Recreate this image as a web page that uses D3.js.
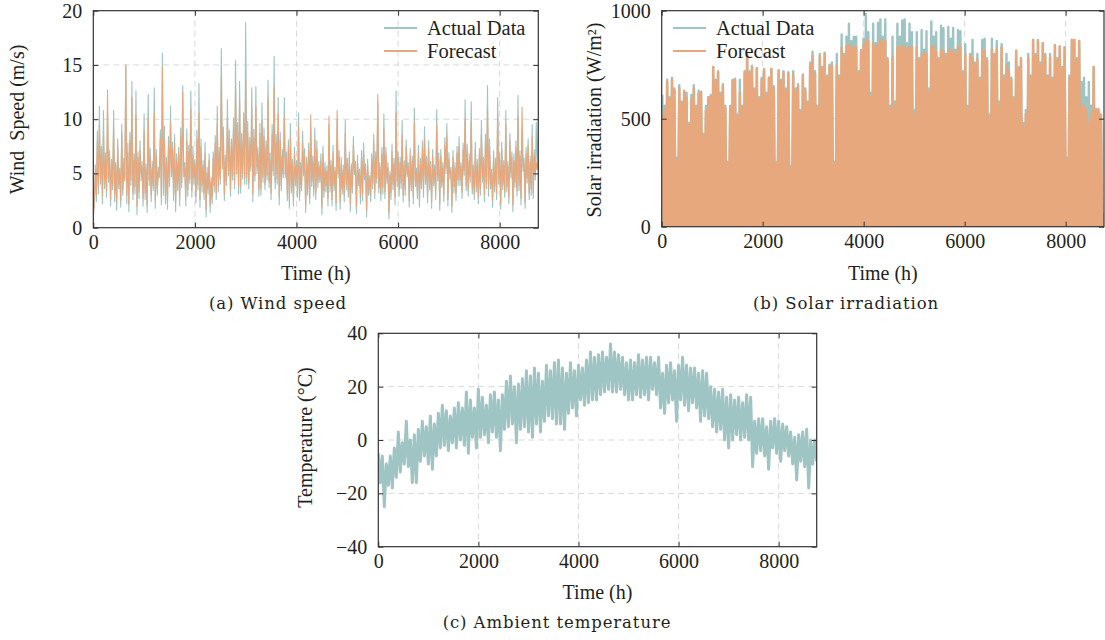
<!DOCTYPE html>
<html>
<head>
<meta charset="utf-8">
<script src="https://cdn.jsdelivr.net/npm/d3@7"></script>
<style>
  html, body { margin: 0; padding: 0; background: #fff; }
  svg { display: block; }
  text { font-family: "Liberation Serif", "Times New Roman", serif; fill: #231f20; }
  .caption { font-family: "DejaVu Serif", serif; }
</style>
</head>
<body>
<svg id="chart" width="1105" height="640"></svg>
<script>
// ---- data -------------------------------------------------------------
const hours = 8760;

// Wind speed (m/s), one reading every 20 h (20 readings per row = 400 h)
const windStep = 20;
const windActual = [
  3.5, 1.8, 5.8, 2.4, 8.9, 3.1, 11.2, 4.0, 7.5, 2.2, 10.8, 3.6, 6.9, 2.8, 10.5, 4.2, 7.1, 2.0, 6.3, 3.5,
  10.8, 2.4, 6.0, 1.6, 8.2, 3.6, 5.5, 1.9, 9.5, 3.0, 6.4, 4.6, 15.0, 2.2, 7.8, 1.5, 8.8, 3.9, 13.5, 2.6,
  6.8, 3.1, 12.6, 1.2, 7.0, 2.7, 8.0, 4.3, 6.1, 2.0, 10.5, 2.6, 5.9, 1.4, 12.3, 3.9, 7.3, 2.4, 6.1, 3.4,
  12.9, 1.8, 7.2, 3.0, 5.6, 4.6, 9.0, 2.1, 16.1, 3.0, 9.4, 2.2, 6.5, 1.7, 8.4, 3.8, 11.2, 4.7, 7.9, 2.5,
  8.6, 1.5, 6.8, 3.4, 7.4, 2.0, 9.2, 3.7, 13.1, 5.2, 6.0, 2.0, 9.1, 2.9, 7.6, 4.1, 12.6, 2.8, 7.5, 4.0,
  6.3, 2.3, 9.0, 3.5, 13.3, 1.9, 8.2, 3.3, 6.2, 2.6, 7.9, 1.0, 5.6, 3.1, 6.8, 1.4, 4.1, 2.2, 7.0, 3.3,
  8.5, 2.6, 11.2, 3.3, 7.4, 4.0, 16.5, 6.0, 9.3, 2.5, 6.7, 3.9, 11.8, 4.8, 9.0, 2.9, 8.2, 4.4, 10.1, 3.6,
  15.4, 5.5, 9.7, 3.1, 13.5, 3.2, 8.7, 4.5, 10.6, 4.0, 18.9, 4.0, 9.8, 3.6, 8.3, 5.2, 12.9, 2.4, 9.1, 4.3,
  13.0, 5.1, 7.4, 2.9, 9.6, 3.0, 11.5, 4.2, 9.2, 3.5, 8.0, 4.4, 13.6, 3.7, 6.9, 2.6, 9.5, 4.8, 15.8, 3.6,
  8.6, 4.0, 12.0, 2.1, 8.8, 3.4, 7.2, 4.6, 12.0, 4.6, 7.0, 2.5, 8.1, 1.8, 9.6, 3.2, 6.3, 2.0, 7.4, 3.9,
  6.2, 2.8, 10.6, 2.5, 6.0, 3.4, 8.9, 4.8, 7.3, 1.4, 6.5, 3.0, 7.8, 2.2, 9.2, 3.8, 6.6, 2.9, 9.2, 2.6,
  8.0, 3.7, 6.1, 4.2, 6.8, 1.2, 7.5, 2.8, 6.0, 3.3, 5.7, 2.0, 9.5, 3.3, 6.2, 2.0, 7.6, 3.4, 5.6, 1.6,
  10.0, 4.6, 7.1, 1.7, 6.5, 3.1, 5.8, 2.4, 9.9, 3.5, 6.4, 2.8, 7.0, 1.5, 5.9, 3.2, 8.4, 4.9, 6.1, 1.3,
  6.7, 3.9, 5.4, 2.2, 7.1, 2.5, 7.8, 4.4, 5.9, 1.0, 6.3, 3.0, 4.8, 2.4, 6.8, 3.6, 8.6, 2.7, 7.0, 4.1,
  11.5, 3.2, 6.0, 2.5, 7.4, 3.1, 10.5, 2.7, 7.4, 4.1, 6.0, 0.8, 5.2, 2.6, 7.7, 3.5, 6.4, 2.1, 12.6, 3.8,
  7.0, 2.9, 6.5, 3.6, 9.9, 2.4, 6.2, 3.0, 8.1, 4.7, 6.0, 1.9, 7.3, 3.4, 6.6, 2.2, 11.0, 3.8, 5.5, 2.7,
  7.6, 1.9, 6.4, 3.6, 8.0, 2.8, 9.3, 4.0, 6.6, 2.3, 8.0, 3.5, 6.1, 1.8, 7.2, 3.9, 5.8, 2.6, 10.9, 4.3,
  6.9, 1.6, 7.2, 3.7, 6.0, 2.4, 8.3, 5.1, 9.6, 2.0, 6.9, 4.5, 5.6, 1.4, 7.1, 3.2, 6.0, 2.5, 7.5, 3.9,
  8.4, 3.9, 6.0, 2.7, 7.8, 4.8, 11.8, 3.4, 7.7, 2.9, 6.8, 4.2, 11.6, 3.1, 5.8, 2.6, 7.9, 3.3, 6.3, 2.2,
  7.3, 3.0, 9.9, 4.2, 6.5, 2.4, 8.6, 3.6, 13.1, 2.9, 8.2, 3.6, 5.4, 1.9, 7.1, 3.3, 6.4, 2.6, 12.0, 4.0,
  6.9, 1.7, 7.9, 3.5, 6.2, 2.8, 10.8, 3.3, 6.1, 2.2, 8.7, 4.6, 7.0, 1.5, 6.8, 3.7, 8.0, 2.9, 12.2, 3.4,
  7.1, 2.1, 9.0, 5.2, 6.4, 1.8, 7.4, 4.1, 8.2, 2.6, 6.6, 3.0, 9.5, 2.7, 7.2, 4.4, 9.7, 5.5, 9.9
];
const windForecast = [
  0.6, 2.5, 5.2, 3.0, 8.0, 3.8, 9.5, 4.5, 6.8, 2.9, 8.7, 4.1, 6.2, 3.4, 12.7, 4.6, 6.5, 2.6, 5.9, 3.9,
  9.2, 3.1, 5.6, 2.3, 7.5, 4.2, 5.0, 2.5, 8.8, 3.5, 5.9, 4.3, 15.0, 3.0, 6.9, 2.2, 8.0, 4.4, 12.0, 3.2,
  6.2, 3.8, 10.4, 2.0, 6.5, 3.3, 7.1, 5.0, 5.6, 2.7, 9.0, 3.2, 5.4, 2.1, 10.1, 4.4, 6.6, 3.0, 5.5, 3.9,
  10.6, 2.5, 6.5, 3.6, 5.2, 5.2, 8.2, 2.8, 14.8, 3.6, 8.1, 2.9, 6.0, 2.4, 7.6, 4.3, 9.6, 5.0, 7.2, 3.1,
  7.8, 2.3, 6.1, 4.0, 6.8, 2.7, 8.4, 4.2, 12.5, 4.7, 5.5, 2.8, 8.0, 3.5, 7.0, 4.5, 10.9, 3.4, 6.7, 4.6,
  5.8, 2.9, 8.2, 4.0, 10.6, 2.6, 7.4, 3.9, 5.7, 3.2, 6.8, 1.7, 5.0, 3.6, 6.2, 2.1, 4.6, 2.9, 6.4, 3.9,
  7.8, 3.2, 9.6, 3.9, 6.8, 4.5, 14.0, 5.4, 8.5, 3.0, 6.1, 4.4, 10.2, 5.3, 8.2, 3.5, 7.5, 4.9, 9.1, 4.1,
  12.9, 5.0, 8.8, 3.7, 11.8, 3.8, 7.9, 5.0, 9.4, 4.6, 13.6, 4.6, 8.7, 4.1, 7.6, 5.6, 11.0, 3.1, 8.3, 4.8,
  11.2, 5.6, 6.8, 3.5, 8.7, 3.6, 9.9, 4.7, 8.4, 4.0, 7.3, 4.8, 12.0, 4.2, 6.2, 3.2, 8.6, 5.2, 12.9, 4.2,
  7.9, 4.5, 10.5, 2.8, 8.0, 3.9, 6.6, 5.0, 10.1, 5.0, 6.4, 3.1, 7.4, 2.5, 8.3, 3.8, 5.8, 2.6, 6.8, 4.4,
  5.7, 3.3, 9.3, 3.0, 5.5, 3.9, 7.8, 5.2, 6.6, 2.0, 5.9, 3.6, 7.1, 2.8, 10.4, 4.3, 6.0, 3.5, 8.1, 3.2,
  7.2, 4.2, 5.6, 4.7, 6.1, 1.9, 6.8, 3.4, 5.5, 3.9, 5.2, 2.7, 10.3, 3.9, 5.7, 2.6, 6.9, 3.9, 5.2, 2.3,
  10.8, 5.0, 6.5, 2.4, 5.9, 3.6, 5.3, 3.0, 8.7, 4.0, 5.9, 3.4, 6.4, 2.2, 5.4, 3.8, 7.6, 5.2, 5.6, 1.9,
  6.1, 4.4, 5.0, 2.9, 6.5, 3.1, 7.0, 4.8, 5.4, 1.6, 5.8, 3.6, 4.5, 3.0, 6.2, 4.1, 7.8, 3.3, 6.4, 4.6,
  12.3, 3.7, 5.6, 3.1, 6.8, 3.7, 9.2, 3.3, 6.8, 4.6, 5.5, 1.4, 4.9, 3.2, 7.0, 4.0, 5.9, 2.8, 10.6, 4.3,
  6.5, 3.5, 6.0, 4.1, 8.5, 3.0, 5.7, 3.6, 7.4, 5.1, 5.6, 2.5, 6.7, 4.0, 6.1, 2.8, 9.7, 4.3, 5.0, 3.3,
  6.9, 2.5, 5.9, 4.1, 7.3, 3.4, 8.1, 4.5, 6.0, 2.9, 7.3, 4.0, 5.6, 2.4, 6.6, 4.4, 5.3, 3.2, 9.4, 4.8,
  6.3, 2.2, 6.6, 4.2, 5.5, 3.0, 7.6, 5.5, 8.5, 2.6, 6.3, 5.0, 5.2, 2.0, 6.5, 3.8, 5.5, 3.1, 6.9, 4.4,
  7.5, 4.4, 5.6, 3.3, 7.2, 5.2, 10.0, 3.9, 7.0, 3.5, 6.2, 4.7, 9.8, 3.6, 5.3, 3.1, 7.2, 3.8, 5.8, 2.8,
  6.7, 3.6, 8.6, 4.7, 6.0, 3.0, 7.9, 4.1, 11.2, 3.5, 7.5, 4.1, 5.0, 2.5, 6.5, 3.9, 5.9, 3.2, 10.4, 4.5,
  6.4, 2.2, 7.2, 4.0, 5.7, 3.3, 9.5, 3.8, 5.6, 2.8, 8.0, 5.1, 6.5, 2.1, 6.2, 4.2, 7.4, 3.4, 10.3, 3.9,
  6.6, 2.7, 11.1, 5.6, 5.9, 2.3, 6.8, 4.6, 7.6, 3.2, 6.1, 3.6, 8.4, 3.2, 6.6, 4.9, 6.0, 5.3, 6.1
];

// Solar irradiation (W/m²): daytime maxima every 48 h, night-time readings are 0
const solarStep = 48;
const solarNight = 0;
const solarActual = [
  610, 560, 680, 600, 690, 640, 320, 655, 580, 630,
  620, 480, 610, 655, 560, 630, 625, 430, 560, 600,
  610, 740, 680, 720, 620, 660, 560, 300, 560, 680,
  685, 520, 680, 560, 720, 800, 720, 745, 640, 735,
  600, 690, 730, 620, 690, 730, 650, 300, 725, 680,
  720, 640, 715, 280, 720, 640, 660, 540, 705, 640,
  580, 760, 810, 720, 560, 800, 740, 805, 700, 750,
  760, 300, 800, 700, 890, 800, 880, 940, 860, 880,
  880, 720, 818, 870, 985, 900, 620, 940, 850, 945,
  960, 880, 960, 780, 560, 880, 580, 940, 880, 955,
  960, 850, 940, 900, 540, 900, 780, 910, 820, 905,
  640, 950, 880, 900, 780, 930, 920, 800, 925, 870,
  920, 820, 910, 905, 720, 845, 560, 800, 865, 760,
  800, 690, 865, 870, 780, 520, 870, 800, 860, 580,
  845, 700, 800, 760, 690, 600, 815, 740, 780, 480,
  540, 800, 700, 865, 800, 865, 760, 850, 800, 700,
  800, 690, 840, 780, 835, 740, 830, 320, 700, 865,
  865, 780, 860, 670, 690, 600, 670, 560, 740, 545,
  530, 500, 60
];
const solarForecast = [
  520, 540, 670, 590, 680, 630, 300, 640, 570, 625,
  600, 470, 590, 640, 550, 615, 620, 420, 540, 600,
  600, 740, 670, 715, 610, 650, 550, 290, 550, 675,
  680, 510, 620, 550, 715, 795, 710, 740, 630, 730,
  590, 680, 725, 610, 690, 730, 640, 290, 720, 670,
  715, 630, 710, 270, 705, 630, 650, 530, 700, 630,
  570, 750, 790, 710, 550, 790, 730, 800, 690, 745,
  740, 290, 750, 690, 830, 790, 835, 840, 830, 830,
  830, 710, 810, 840, 865, 860, 600, 850, 830, 848,
  865, 850, 865, 770, 540, 787, 560, 830, 833, 835,
  833, 820, 833, 830, 520, 830, 770, 800, 800, 800,
  620, 833, 833, 810, 770, 815, 815, 790, 815, 815,
  815, 800, 833, 830, 710, 800, 540, 790, 780, 750,
  775, 680, 815, 815, 770, 500, 820, 790, 820, 560,
  830, 690, 750, 720, 680, 590, 815, 730, 775, 460,
  520, 780, 690, 865, 790, 860, 750, 850, 790, 690,
  785, 680, 840, 770, 833, 730, 830, 310, 690, 865,
  865, 770, 860, 555, 560, 540, 480, 520, 740, 540,
  545, 520, 40
];

// Ambient temperature (°C), one reading every 40 h
const tempStep = 40;
const temperature = [
  -5, -16, -6, -25, -9, -17, -6, -18, -3, -14,
  3, -12, -1, -9, 7, -10, 0, -16, 2, -16,
  4, -8, 7, -6, 5, -9, 9, -11, 6, -6,
  10, -3, 13, -2, 11, -4, 9, -1, 12, -3,
  14, 0, 12, -2, 18, -5, 15, 1, 12, -3,
  19, 1, 16, 2, 13, -1, 17, 3, 18, 1,
  15, -4, 17, 4, 22, 5, 24, 6, 20, -1,
  21, 4, 23, 5, 26, 3, 24, 1, 27, 6,
  25, 3, 22, 7, 28, 9, 26, 8, 29, 6,
  30, 6, 27, 4, 25, 10, 29, 12, 26, 9,
  28, 15, 27, 13, 30, 14, 33, 15, 31, 15,
  32, 17, 33, 18, 31, 19, 36, 18, 33, 18,
  32, 19, 31, 17, 29, 15, 30, 15, 29, 17,
  32, 16, 30, 17, 31, 15, 31, 19, 29, 17,
  31, 12, 25, 10, 28, 14, 29, 15, 26, 7,
  28, 15, 31, 13, 28, 11, 27, 14, 27, 12,
  25, 7, 26, 9, 25, 8, 20, 5, 19, 3,
  18, 4, 19, 0, 16, -3, 17, 0, 15, 2,
  16, 0, 14, 1, 17, 0, 16, -10, 7, -5,
  8, -4, 8, -6, 5, -11, 7, -3, 8, -5,
  7, -8, 6, -4, 5, -6, 3, -9, 1, -15,
  2, -8, 3, -10, 4, -18, 0, -9, 0, -8
];

// Axis ticks and labels
const timeTicks = [0, 2000, 4000, 6000, 8000];
const windTicks = [0, 5, 10, 15, 20];
const solarTicks = [0, 500, 1000];
const tempTicks = [-40, -20, 0, 20, 40];
const legendLabels = ["Actual Data", "Forecast"];
const captions = ["(a) Wind speed", "(b) Solar irradiation", "(c) Ambient temperature"];

// ---- drawing ------------------------------------------------------------
const colActual = "#9ec4c3";
const colForecast = "#e7a87d";
const svg = d3.select("#chart");

function makePanel(o) {
  const x = d3.scaleLinear().domain([0, hours]).range([o.left, o.right]);
  const y = d3.scaleLinear().domain(o.yDomain).range([o.bottom, o.top]);
  const g = svg.append("g");
  const clipId = "clip-" + o.id;
  g.append("clipPath").attr("id", clipId).append("rect")
    .attr("x", o.left).attr("y", o.top)
    .attr("width", o.right - o.left).attr("height", o.bottom - o.top);

  // dashed grid
  const grid = g.append("g").attr("stroke", "#d9d9d9").attr("stroke-width", 1)
    .attr("stroke-dasharray", "6,4");
  grid.selectAll(".gx").data(timeTicks.filter(t => t > 0)).join("line")
    .attr("x1", d => x(d)).attr("x2", d => x(d)).attr("y1", o.top).attr("y2", o.bottom);
  grid.selectAll(".gy").data(o.yTicks.slice(1, -1)).join("line")
    .attr("y1", d => y(d)).attr("y2", d => y(d)).attr("x1", o.left).attr("x2", o.right);

  const plot = g.append("g").attr("clip-path", `url(#${clipId})`);
  return { x, y, g, plot };
}

function finishPanel(p, o) {
  const { x, y, g } = p;
  const style = sel => {
    sel.select(".domain").remove();
    sel.selectAll(".tick line").attr("stroke", "#333").attr("stroke-width", 1);
    sel.selectAll(".tick text").attr("font-family", "Liberation Serif, serif")
      .attr("font-size", 20).attr("fill", "#231f20");
  };
  g.append("g").attr("transform", `translate(0,${o.bottom})`)
    .call(d3.axisBottom(x).tickValues(timeTicks).tickSizeInner(-5).tickSizeOuter(0).tickPadding(7).tickFormat(d3.format("d")))
    .call(style);
  g.append("g").attr("transform", `translate(0,${o.top})`)
    .call(d3.axisTop(x).tickValues(timeTicks).tickSizeInner(-5).tickSizeOuter(0).tickFormat(""))
    .call(style);
  g.append("g").attr("transform", `translate(${o.left},0)`)
    .call(d3.axisLeft(y).tickValues(o.yTicks).tickSizeInner(-5).tickSizeOuter(0).tickPadding(11).tickFormat(d3.format("d")))
    .call(style);
  g.append("g").attr("transform", `translate(${o.right},0)`)
    .call(d3.axisRight(y).tickValues(o.yTicks).tickSizeInner(-5).tickSizeOuter(0).tickFormat(""))
    .call(style);

  g.append("rect").attr("x", o.left).attr("y", o.top)
    .attr("width", o.right - o.left).attr("height", o.bottom - o.top)
    .attr("fill", "none").attr("stroke", "#333").attr("stroke-width", 1.2);

  g.append("text").attr("x", (o.left + o.right) / 2).attr("y", o.xTitleY)
    .attr("text-anchor", "middle").attr("font-size", 20).text("Time (h)");
  g.append("text")
    .attr("transform", `translate(${o.yTitleX},${o.yTitleY}) rotate(-90)`)
    .attr("text-anchor", "middle").attr("font-size", 20)
    .style("white-space", "pre").text(o.yTitle);
  g.append("text").attr("class", "caption")
    .attr("x", o.capX).attr("y", o.capY).attr("text-anchor", "middle")
    .attr("font-size", 16.5).attr("letter-spacing", 0.9).text(o.caption);

  if (o.legendX !== undefined) {
    const lg = g.append("g");
    [colActual, colForecast].forEach((c, i) => {
      const ly = 28 + i * 23;
      lg.append("line").attr("x1", o.legendX).attr("x2", o.legendX + 33)
        .attr("y1", ly).attr("y2", ly).attr("stroke", c).attr("stroke-width", 2.2);
      lg.append("text").attr("x", o.legendX + 43).attr("y", ly + 7)
        .attr("font-size", 20.5).text(legendLabels[i]);
    });
  }
}

// (a) wind speed
const optA = { id: "wind", left: 93.3, right: 538.3, top: 10.7, bottom: 227.7,
  yDomain: [0, 20], yTicks: windTicks, yTitle: "Wind  Speed (m/s)",
  yTitleX: 24, yTitleY: 119.5, xTitleY: 280, caption: captions[0], capX: 278, capY: 309,
  legendX: 384 };
const pA = makePanel(optA);
const windLine = d3.line().x((d, i) => pA.x(i * windStep)).y(d => pA.y(d));
pA.plot.append("path").attr("d", windLine(windActual))
  .attr("fill", "none").attr("stroke", colActual).attr("stroke-width", 1.1).attr("stroke-linejoin", "round");
pA.plot.append("path").attr("d", windLine(windForecast))
  .attr("fill", "none").attr("stroke", colForecast).attr("stroke-width", 1.1).attr("stroke-linejoin", "round");
finishPanel(pA, optA);

// (b) solar irradiation
const optB = { id: "solar", left: 661.7, right: 1104, top: 10.7, bottom: 226.7,
  yDomain: [0, 1000], yTicks: solarTicks, yTitle: "Solar irradiation (W/m²)",
  yTitleX: 601, yTitleY: 120, xTitleY: 280, caption: captions[1], capX: 846, capY: 309,
  legendX: 673 };
const pB = makePanel(optB);
// daily maximum at midday, night-time reading between consecutive maxima
const solarPoints = peaks => peaks.flatMap((v, k) => [
  [k * solarStep + 12, v], [k * solarStep + 36, solarNight]
]);
const solarLine = d3.line().x(d => pB.x(d[0])).y(d => pB.y(d[1]));
pB.plot.append("path").attr("d", solarLine(solarPoints(solarActual)))
  .attr("fill", "none").attr("stroke", colActual).attr("stroke-width", 2.4).attr("stroke-linejoin", "round");
pB.plot.append("path").attr("d", solarLine(solarPoints(solarForecast)))
  .attr("fill", "none").attr("stroke", colForecast).attr("stroke-width", 2.4).attr("stroke-linejoin", "round");
finishPanel(pB, optB);

// (c) ambient temperature
const optC = { id: "temp", left: 378.3, right: 816.7, top: 333.3, bottom: 546.7,
  yDomain: [-40, 40], yTicks: tempTicks, yTitle: "Temperature (°C)",
  yTitleX: 312, yTitleY: 437.5, xTitleY: 599, caption: captions[2], capX: 557, capY: 628 };
const pC = makePanel(optC);
const tempLine = d3.line().x((d, i) => pC.x(i * tempStep)).y(d => pC.y(d));
pC.plot.append("path").attr("d", tempLine(temperature))
  .attr("fill", "none").attr("stroke", colActual).attr("stroke-width", 3.0).attr("stroke-linejoin", "round");
finishPanel(pC, optC);
</script>
</body>
</html>
